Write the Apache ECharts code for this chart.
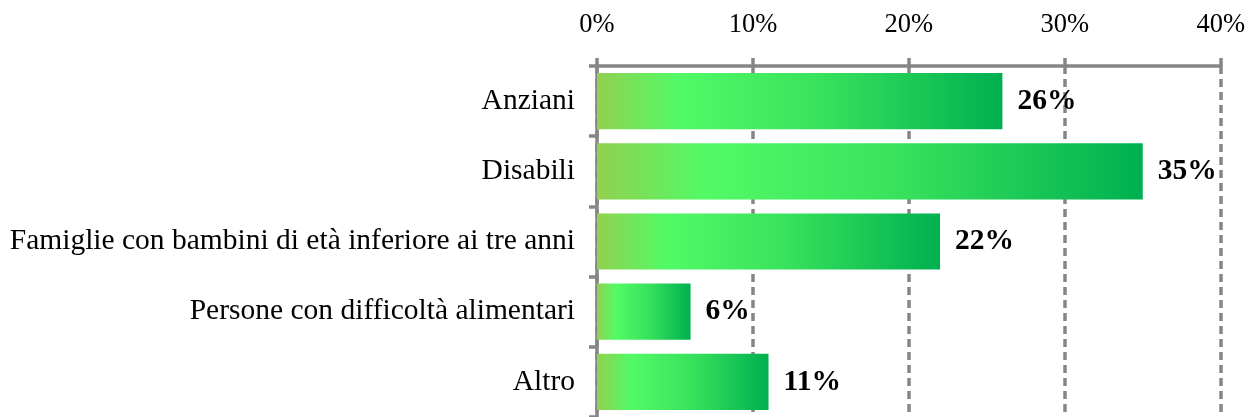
<!DOCTYPE html>
<html>
<head>
<meta charset="utf-8">
<script src="https://cdn.jsdelivr.net/npm/echarts@6/dist/echarts.min.js"></script>
<style>
  html, body { margin: 0; padding: 0; background: #fff; }
  #chart { width: 1248px; height: 417px; }
</style>
</head>
<body>
<div id="chart"></div>
<script>
// Categories and shares (percent)
const categories = [
  'Anziani',
  'Disabili',
  'Famiglie con bambini di età inferiore ai tre anni',
  'Persone con difficoltà alimentari',
  'Altro'
];
const shares = [26, 35, 22, 6, 11];
const axisMax = 40;
const axisStep = 10;

const serif = '"Liberation Serif", "Times New Roman", serif';
const gray = '#868686';

const chart = echarts.init(document.getElementById('chart'), null, { renderer: 'canvas' });

const barFill = new echarts.graphic.LinearGradient(0, 0, 1, 0, [
  { offset: 0, color: '#92d050' },
  { offset: 0.2, color: '#52fa66' },
  { offset: 0.55, color: '#38e25c' },
  { offset: 1, color: '#00b050' }
]);

chart.setOption({
  animation: false,
  backgroundColor: '#ffffff',
  grid: { left: 597, right: 27, top: 66, bottom: -4, containLabel: false },
  xAxis: {
    type: 'value',
    position: 'top',
    min: 0,
    max: axisMax,
    interval: axisStep,
    axisLine: { show: true, lineStyle: { color: gray, width: 3.5 } },
    axisTick: { show: true, inside: false, length: 8, lineStyle: { color: gray, width: 3.5 } },
    axisLabel: {
      margin: 27,
      formatter: v => v + '%',
      fontFamily: serif,
      fontSize: 26.5,
      color: '#000'
    },
    splitLine: { show: true, lineStyle: { color: gray, width: 3.5, type: [8, 5] } }
  },
  yAxis: {
    type: 'category',
    inverse: true,
    data: categories,
    axisLine: { show: true, lineStyle: { color: gray, width: 3.5 } },
    axisTick: { show: true, inside: false, length: 8, lineStyle: { color: gray, width: 3.5 } },
    axisLabel: {
      margin: 22,
      fontFamily: serif,
      fontSize: 29.5,
      color: '#000',
      padding: [6, 0, 0, 0]
    }
  },
  series: [{
    type: 'bar',
    data: shares,
    barCategoryGap: '20%',
    itemStyle: { color: barFill },
    label: {
      show: true,
      position: 'right',
      distance: 15,
      formatter: p => p.value + '%',
      fontFamily: serif,
      fontWeight: 'bold',
      fontSize: 29.5,
      color: '#000',
      padding: [6, 0, 0, 0]
    }
  }]
});
</script>
</body>
</html>
